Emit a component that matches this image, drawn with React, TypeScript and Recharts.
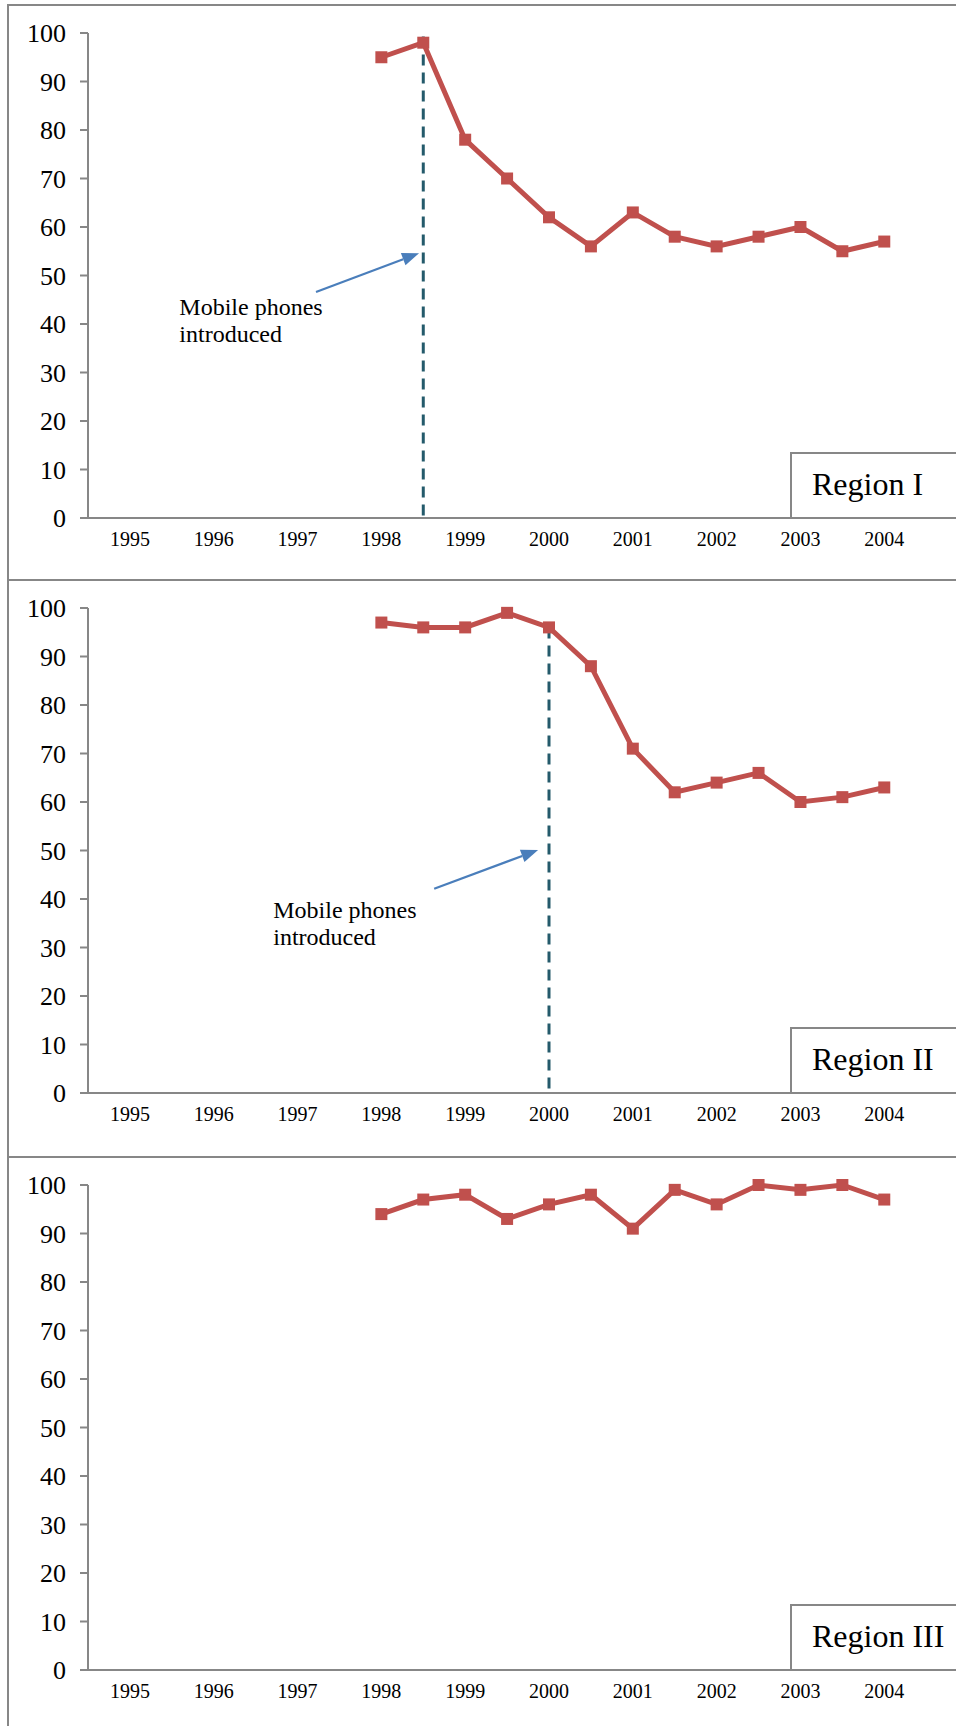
import React from "react";
import { LineChart, Line, XAxis, YAxis, ReferenceLine, ReferenceDot } from "recharts";

// half-year observations, 1998 - 2004
const years = [1998, 1998.5, 1999, 1999.5, 2000, 2000.5, 2001, 2001.5, 2002, 2002.5, 2003, 2003.5, 2004];
const regionOne = [95, 98, 78, 70, 62, 56, 63, 58, 56, 58, 60, 55, 57];
const regionTwo = [97, 96, 96, 99, 96, 88, 71, 62, 64, 66, 60, 61, 63];
const regionThree = [94, 97, 98, 93, 96, 98, 91, 99, 96, 100, 99, 100, 97];

const yearTicks = [1995, 1996, 1997, 1998, 1999, 2000, 2001, 2002, 2003, 2004];
const valueTicks = [0, 10, 20, 30, 40, 50, 60, 70, 80, 90, 100];
const regionNames = ["Region I", "Region II", "Region III"];

// when phones came in, and where the note sits (data units)
const introYears = [1998.5, 2000];
const introTops = [99.3, 96];
const noteAt = [
  { x: 1995.59, y: 41.9 },
  { x: 1996.71, y: 36.1 },
];
const arrowFrom = [
  { x: 1997.22, y: 46.6 },
  { x: 1998.63, y: 42.1 },
];
const arrowTo = [
  { x: 1998.45, y: 54.6 },
  { x: 1999.87, y: 50.1 },
];

const SERIF = '"Liberation Serif", "Times New Roman", serif';
const GRAY = "#878787";
const RED = "#C0504D";
const TEAL = "#245A6B";
const BLUE = "#4A7EBB";

const CHART_W = 1010;
const CHART_H = 570;

const squareDot = (props: any) => {
  const { cx, cy, index } = props;
  if (cx == null || cy == null) return <g key={index} />;
  return <rect key={index} x={cx - 6} y={cy - 6} width={12} height={12} fill={RED} />;
};

const arrowShape = (props: any) => {
  const { x1, y1, x2, y2 } = props;
  const ang = Math.atan2(y2 - y1, x2 - x1);
  const len = 17;
  const half = 6.5;
  const bx = x2 - len * Math.cos(ang);
  const by = y2 - len * Math.sin(ang);
  const pts = [
    `${x2},${y2}`,
    `${bx + half * Math.sin(ang)},${by - half * Math.cos(ang)}`,
    `${bx - half * Math.sin(ang)},${by + half * Math.cos(ang)}`,
  ].join(" ");
  return (
    <g>
      <line x1={x1} y1={y1} x2={bx} y2={by} stroke={BLUE} strokeWidth={2.2} />
      <polygon points={pts} fill={BLUE} />
    </g>
  );
};

const noteShape = (props: any) => {
  const { cx, cy } = props;
  return (
    <text x={cx} y={cy} fontSize={24} fontFamily={SERIF} fill="#000">
      <tspan x={cx}>Mobile phones</tspan>
      <tspan x={cx} dy={27}>
        introduced
      </tspan>
    </text>
  );
};

function Panel({ idx, values, top }: { idx: number; values: number[]; top: number }) {
  const data = years.map((year, i) => ({ year, value: values[i] }));
  const intro = idx < introYears.length;

  return (
    <div style={{ position: "absolute", left: 0, top, width: CHART_W, height: CHART_H }}>
      <LineChart
        width={CHART_W}
        height={CHART_H}
        data={data}
        margin={{ top: 33, right: 0, bottom: 0, left: 0 }}
      >
        <XAxis
          dataKey="year"
          type="number"
          domain={[1994.5, 2005.5]}
          ticks={yearTicks}
          interval={0}
          height={52}
          tickLine={false}
          tickSize={0}
          tickMargin={14}
          axisLine={{ stroke: GRAY, strokeWidth: 2 }}
          tick={{ fontSize: 20, fill: "#000", fontFamily: SERIF }}
        />
        <YAxis
          type="number"
          domain={[0, 100]}
          ticks={valueTicks}
          interval={0}
          width={88}
          tickSize={8}
          tickMargin={14}
          axisLine={{ stroke: GRAY, strokeWidth: 2 }}
          tickLine={{ stroke: GRAY, strokeWidth: 2 }}
          tick={{ fontSize: 26, fill: "#000", fontFamily: SERIF }}
        />

        <Line
          dataKey="value"
          stroke={RED}
          strokeWidth={5}
          dot={squareDot}
          activeDot={false}
          isAnimationActive={false}
        />

        {intro && (
          <ReferenceLine
            segment={[
              { x: introYears[idx], y: introTops[idx] },
              { x: introYears[idx], y: 0 },
            ]}
            stroke={TEAL}
            strokeWidth={3}
            strokeDasharray="11 7"
            ifOverflow="visible"
          />
        )}
        {intro && (
          <ReferenceLine
            segment={[arrowFrom[idx], arrowTo[idx]]}
            shape={arrowShape}
            ifOverflow="visible"
          />
        )}
        {intro && (
          <ReferenceDot x={noteAt[idx].x} y={noteAt[idx].y} shape={noteShape} ifOverflow="visible" />
        )}
      </LineChart>

      <svg
        width={956}
        height={CHART_H}
        style={{ position: "absolute", left: 0, top: 0, pointerEvents: "none" }}
      >
        <rect x={791} y={453} width={220} height={65} fill="#fff" stroke={GRAY} strokeWidth={2} />
        <text x={812} y={495} fontSize={32} fontFamily={SERIF} fill="#000">
          {regionNames[idx]}
        </text>
      </svg>
    </div>
  );
}

export default function App() {
  const line = (style: React.CSSProperties) => (
    <div style={{ position: "absolute", background: GRAY, ...style }} />
  );
  return (
    <div
      style={{
        position: "absolute",
        left: 0,
        top: 0,
        width: 956,
        height: 1726,
        overflow: "hidden",
        background: "#fff",
      }}
    >
      {line({ left: 7, top: 4, width: 960, height: 2 })}
      {line({ left: 7, top: 4, width: 2, height: 1722 })}
      {line({ left: 7, top: 579, width: 960, height: 2 })}
      {line({ left: 7, top: 1156, width: 960, height: 2 })}

      <Panel idx={0} values={regionOne} top={0} />
      <Panel idx={1} values={regionTwo} top={575} />
      <Panel idx={2} values={regionThree} top={1152} />
    </div>
  );
}
